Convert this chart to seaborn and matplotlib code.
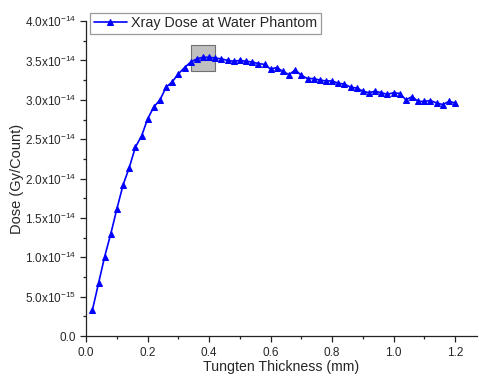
import matplotlib
matplotlib.use("Agg")
import matplotlib.pyplot as plt
from matplotlib.patches import Rectangle
from matplotlib.ticker import FixedLocator, FuncFormatter
import numpy as np
import pandas as pd
import seaborn as sns

# Epaisseur de tungstene (mm) et dose (x1e-14 Gy/Count)
thickness = [
    0.02, 0.04, 0.06, 0.08, 0.10, 0.12, 0.14, 0.16, 0.18, 0.20,
    0.22, 0.24, 0.26, 0.28, 0.30, 0.32, 0.34, 0.36, 0.38, 0.40,
    0.42, 0.44, 0.46, 0.48, 0.50, 0.52, 0.54, 0.56, 0.58, 0.60,
    0.62, 0.64, 0.66, 0.68, 0.70, 0.72, 0.74, 0.76, 0.78, 0.80,
    0.82, 0.84, 0.86, 0.88, 0.90, 0.92, 0.94, 0.96, 0.98, 1.00,
    1.02, 1.04, 1.06, 1.08, 1.10, 1.12, 1.14, 1.16, 1.18, 1.20,
]
dose_e14 = [
    0.33, 0.67, 1.01, 1.30, 1.62, 1.92, 2.14, 2.40, 2.54, 2.76,
    2.91, 3.00, 3.16, 3.23, 3.33, 3.41, 3.48, 3.52, 3.54, 3.54,
    3.53, 3.52, 3.50, 3.49, 3.50, 3.49, 3.48, 3.46, 3.45, 3.39,
    3.41, 3.36, 3.32, 3.38, 3.31, 3.27, 3.27, 3.25, 3.24, 3.24,
    3.21, 3.20, 3.16, 3.15, 3.11, 3.09, 3.11, 3.09, 3.07, 3.09,
    3.08, 3.00, 3.04, 2.98, 2.98, 2.99, 2.96, 2.94, 2.98, 2.96,
]
series_label = "Xray Dose at Water Phantom"

# Graduations des axes
x_major = [0.0, 0.2, 0.4, 0.6, 0.8, 1.0, 1.2]
x_minor = [0.1, 0.3, 0.5, 0.7, 0.9, 1.1]
y_major = [0.0, 0.5e-14, 1.0e-14, 1.5e-14, 2.0e-14, 2.5e-14, 3.0e-14, 3.5e-14, 4.0e-14]
y_minor = [0.25e-14, 0.75e-14, 1.25e-14, 1.75e-14, 2.25e-14, 2.75e-14, 3.25e-14, 3.75e-14]

# Zone grisee autour du maximum
box_x = (0.34, 0.42)
box_y = (3.37e-14, 3.69e-14)

df = pd.DataFrame({"Thickness": thickness, "Dose": np.array(dose_e14) * 1e-14})

sns.set_style("ticks")
plt.rcParams["font.family"] = ["Liberation Sans", "DejaVu Sans"]
plt.rcParams["mathtext.default"] = "regular"
plt.rcParams["xtick.direction"] = "out"
plt.rcParams["ytick.direction"] = "out"


def sci_fmt(v, pos):
    if abs(v) < 1e-20:
        return "0.0"
    e = int(np.floor(np.log10(abs(v)) + 1e-9))
    m = v / 10 ** e
    return f"{m:.1f}x10$^{{{e}}}$"


fig = plt.figure(figsize=(4.79, 3.76), dpi=100)
ax = fig.add_axes([0.18, 0.106, 0.815, 0.838])

ax.add_patch(Rectangle((box_x[0], box_y[0]), box_x[1] - box_x[0], box_y[1] - box_y[0],
                       facecolor="#c0c0c0", edgecolor="#707070", linewidth=0.8, zorder=1))

sns.lineplot(data=df, x="Thickness", y="Dose", ax=ax, color="#0000ff", linewidth=1.2,
             marker="^", markersize=5, markeredgecolor="#0000ff", label=series_label, zorder=3)

ax.set_xlim(0, 1.27)
ax.set_ylim(0, 4.0e-14)
ax.xaxis.set_major_locator(FixedLocator(x_major))
ax.xaxis.set_minor_locator(FixedLocator(x_minor))
ax.yaxis.set_major_locator(FixedLocator(y_major))
ax.yaxis.set_minor_locator(FixedLocator(y_minor))
ax.yaxis.set_major_formatter(FuncFormatter(sci_fmt))
ax.xaxis.set_major_formatter(FuncFormatter(lambda v, p: f"{v:.1f}"))
ax.tick_params(axis="both", which="major", labelsize=8.5, length=4, width=0.9, color="#222222")
ax.tick_params(axis="both", which="minor", length=2.5, width=0.9, color="#222222")

ax.set_xlabel("Tungten Thickness (mm)", fontsize=10.2, labelpad=1)
ax.set_ylabel("Dose (Gy/Count)", fontsize=10.5)
ax.yaxis.set_label_coords(-0.16, 0.5)

for side in ["top", "right"]:
    ax.spines[side].set_visible(False)
for side in ["left", "bottom"]:
    ax.spines[side].set_color("#222222")
    ax.spines[side].set_linewidth(0.9)

leg = ax.legend(loc="upper left", bbox_to_anchor=(0.01, 1.027), fontsize=10.3, frameon=True,
                fancybox=False, borderpad=0.25, handlelength=2.3, handletextpad=0.3,
                borderaxespad=0)
leg.get_frame().set_edgecolor("#808080")
leg.get_frame().set_linewidth(0.9)

fig.savefig("out.png", dpi=100)
plt.close(fig)
